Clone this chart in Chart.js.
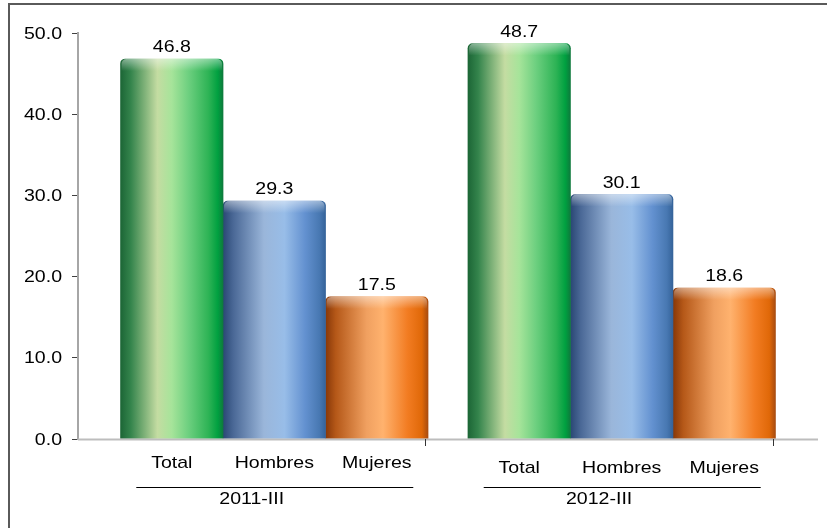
<!DOCTYPE html>
<html><head><meta charset="utf-8">
<script src="https://cdn.jsdelivr.net/npm/chart.js@4.4.0/dist/chart.umd.min.js"></script>
<style>html,body{margin:0;padding:0;background:#fff;}#wrap{width:827px;height:528px;position:relative}</style>
</head><body><div id="wrap"><canvas id="c" width="827" height="528"></canvas></div>
<script>
const groups = ['2011-III', '2012-III'];
const seriesNames = ['Total', 'Hombres', 'Mujeres'];
const totalValues = [46.8, 48.7];
const hombresValues = [29.3, 30.1];
const mujeresValues = [17.5, 18.6];
const yMin = 0, yMax = 50, yStep = 10;

const FONT = '"Liberation Sans", Arial, sans-serif';
const BAR_T = 102.5;
const SHIFT = 0.065;     // offset of bars relative to category slot
const STRETCH = 1.15;

const gradStops = [
  [[0,'#1c6636'],[0.1,'#34844c'],[0.36,'#c4dca2'],[0.5,'#a6e49a'],[0.66,'#6ed080'],[0.86,'#2db355'],[0.95,'#00a040'],[1,'#0e7a3c']],
  [[0,'#2a4774'],[0.1,'#4a6896'],[0.4,'#9ab6da'],[0.6,'#98bde8'],[0.8,'#6391d0'],[0.94,'#4878b2'],[1,'#35639a']],
  [[0,'#873708'],[0.1,'#b55818'],[0.4,'#f0a060'],[0.56,'#ffb26e'],[0.8,'#f27c22'],[0.94,'#e06808'],[1,'#a84c10']]
];

function barGradient(ctx) {
  const chart = ctx.chart;
  const xs = chart.scales.x;
  const stops = gradStops[ctx.datasetIndex];
  if (!xs || ctx.dataIndex === undefined) return stops[3][1];
  const c = xs.getPixelForValue(ctx.dataIndex);
  const left = c - 1.5 * BAR_T + ctx.datasetIndex * BAR_T;
  if (!isFinite(left)) return stops[3][1];
  const g = chart.ctx.createLinearGradient(left, 0, left + BAR_T, 0);
  stops.forEach(s => g.addColorStop(s[0], s[1]));
  return g;
}

function sText(ctx, t, x, y) {
  ctx.save();
  ctx.translate(x, y);
  ctx.scale(STRETCH, 1);
  ctx.fillText(t, 0, 0);
  ctx.restore();
}

const decor = {
  id: 'decor',
  beforeDraw(chart) {
    const ctx = chart.ctx;
    ctx.save();
    ctx.strokeStyle = '#5a5a5a';
    ctx.lineWidth = 2;
    ctx.strokeRect(9, 4, 900, 600);
    ctx.restore();
  },
  afterDatasetsDraw(chart) {
    const ctx = chart.ctx;
    chart.data.datasets.forEach((ds, di) => {
      chart.getDatasetMeta(di).data.forEach(el => {
        const l = el.x - el.width / 2, t = el.y;
        const g = ctx.createLinearGradient(0, t, 0, t + 12);
        g.addColorStop(0, 'rgba(255,255,255,0.45)');
        g.addColorStop(1, 'rgba(255,255,255,0)');
        ctx.save();
        ctx.beginPath();
        ctx.roundRect(l + 1, t, el.width - 2, 12, [5, 5, 0, 0]);
        ctx.fillStyle = g;
        ctx.fill();
        ctx.restore();
      });
    });
  },
  afterDraw(chart) {
    const ctx = chart.ctx;
    const xs = chart.scales.x;
    const ys = chart.scales.y;
    const a = chart.chartArea;
    ctx.save();
    // x axis line
    ctx.strokeStyle = '#bdbdbd';
    ctx.lineWidth = 2;
    ctx.beginPath();
    ctx.moveTo(a.left, a.bottom + 0.5);
    ctx.lineTo(a.right, a.bottom + 0.5);
    ctx.stroke();
    // category boundary ticks
    ctx.strokeStyle = '#333';
    ctx.lineWidth = 1;
    groups.forEach((g, i) => {
      const px = Math.round(xs.getPixelForValue(i + 0.5 - SHIFT)) + 0.5;
      ctx.beginPath();
      ctx.moveTo(px, a.bottom);
      ctx.lineTo(px, a.bottom + 7);
      ctx.stroke();
    });
    ctx.fillStyle = '#000';
    // y tick labels
    ctx.font = '17px ' + FONT;
    ctx.textAlign = 'right';
    ctx.textBaseline = 'middle';
    ys.ticks.forEach(t => {
      sText(ctx, t.value.toFixed(1), 62, ys.getPixelForValue(t.value) + 1);
    });
    ctx.textAlign = 'center';
    // data labels & series labels
    chart.data.datasets.forEach((ds, di) => {
      chart.getDatasetMeta(di).data.forEach((el, i) => {
        ctx.textBaseline = 'alphabetic';
        sText(ctx, ds.data[i].y.toFixed(1), el.x, el.y - 7);
        ctx.textBaseline = 'middle';
        sText(ctx, seriesNames[di], el.x, a.bottom + 24 + i * 5);
      });
    });
    // group underline + labels
    groups.forEach((g, i) => {
      const c = xs.getPixelForValue(i);
      ctx.strokeStyle = '#000';
      ctx.lineWidth = 1;
      ctx.beginPath();
      ctx.moveTo(c - 138, a.bottom + 48.5);
      ctx.lineTo(c + 139, a.bottom + 48.5);
      ctx.stroke();
      ctx.textBaseline = 'middle';
      sText(ctx, g, xs.getPixelForValue(i - SHIFT), a.bottom + 60);
    });
    ctx.restore();
  }
};

const mk = (vals) => vals.map((v, i) => ({ x: i, y: v }));
const barStyle = {
  barThickness: BAR_T,
  grouped: true,
  backgroundColor: barGradient,
  borderWidth: 0,
  borderRadius: { topLeft: 5, topRight: 5, bottomLeft: 0, bottomRight: 0 },
  borderSkipped: 'bottom'
};

new Chart(document.getElementById('c'), {
  type: 'bar',
  data: {
    datasets: [
      Object.assign({ label: seriesNames[0], data: mk(totalValues) }, barStyle),
      Object.assign({ label: seriesNames[1], data: mk(hombresValues) }, barStyle),
      Object.assign({ label: seriesNames[2], data: mk(mujeresValues) }, barStyle)
    ]
  },
  options: {
    responsive: false,
    animation: false,
    devicePixelRatio: 1,
    layout: { padding: { left: 0, right: 9, top: 33, bottom: 89 } },
    plugins: { legend: { display: false }, tooltip: { enabled: false }, colors: { enabled: false } },
    scales: {
      x: { type: 'linear', min: -0.565, max: 1.565, offset: false, display: false },
      y: {
        min: yMin, max: yMax,
        ticks: { stepSize: yStep, display: false },
        grid: { drawOnChartArea: false, drawTicks: true, tickLength: 6, tickColor: '#404040', tickWidth: 1 },
        border: { display: true, color: '#a6a6a6', width: 2 },
        afterFit: s => { s.width = 78; }
      }
    }
  },
  plugins: [decor]
});
</script></body></html>
